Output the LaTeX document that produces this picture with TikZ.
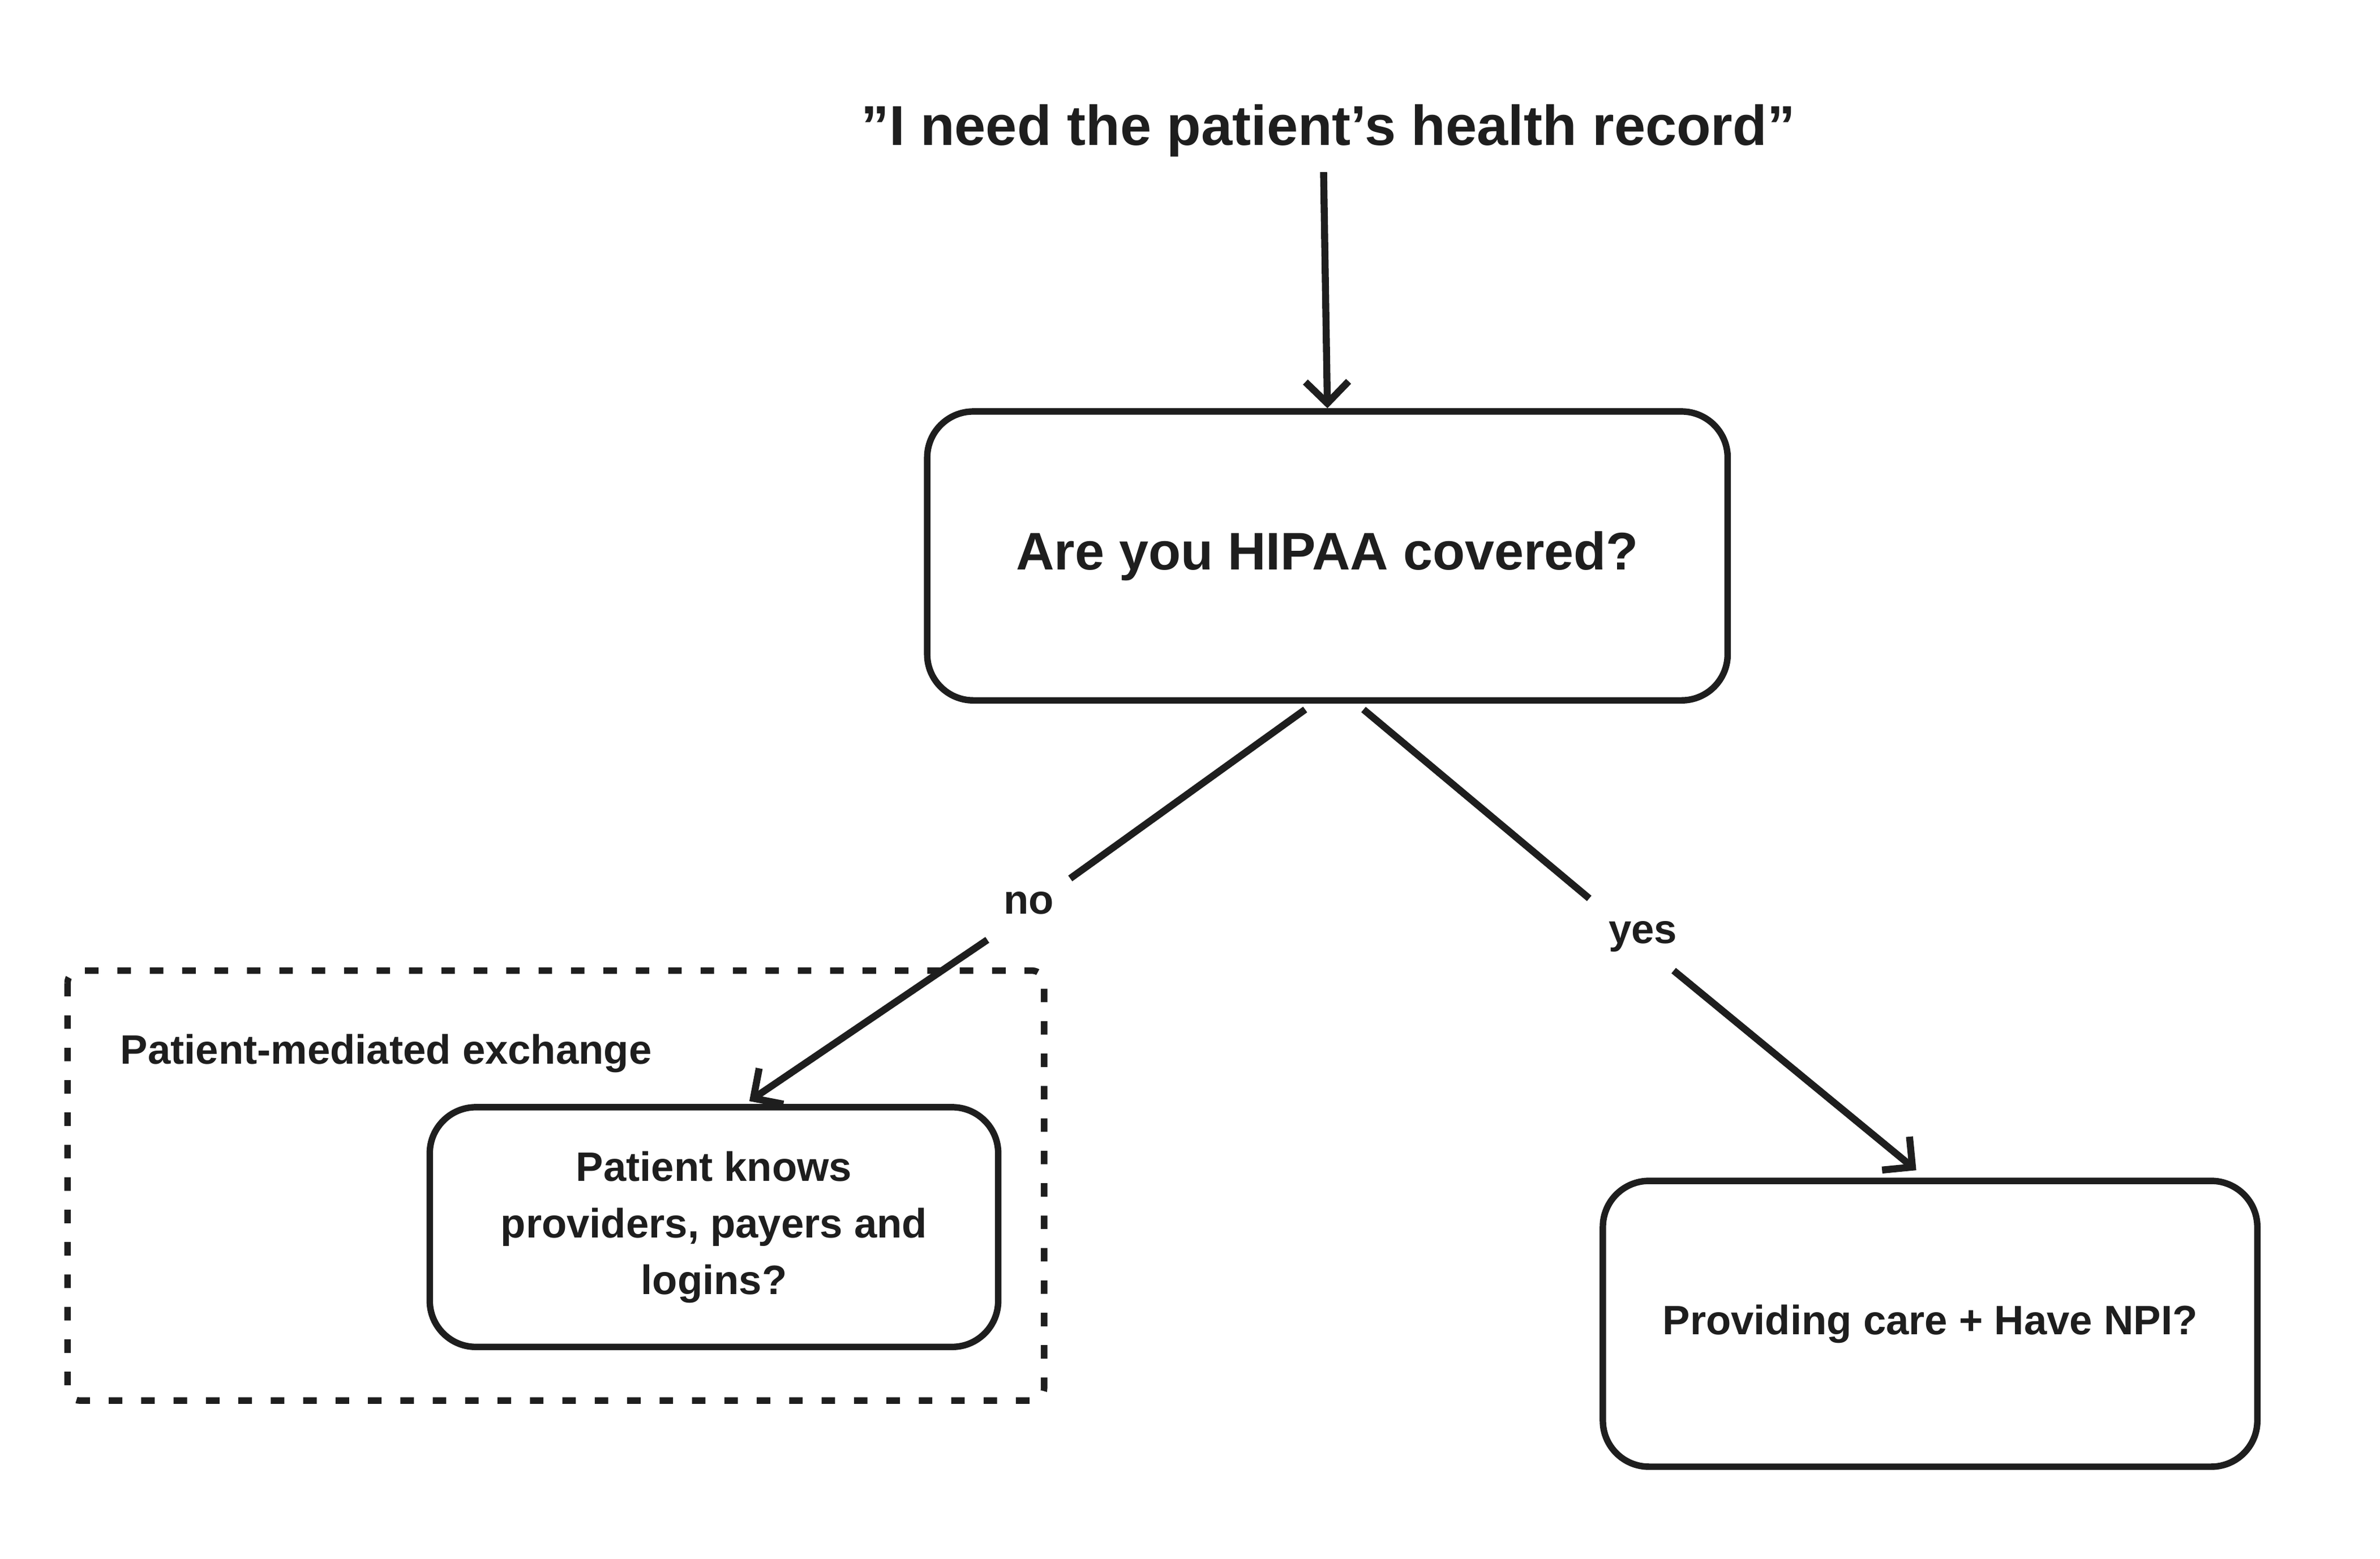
\documentclass[tikz,border=0pt]{standalone}
\usepackage{fontspec}
\setmainfont{Liberation Sans}
\usetikzlibrary{arrows.meta}
\definecolor{ink}{HTML}{1E1E1E}
\begin{document}
\begin{tikzpicture}[x=0.01cm,y=-0.01cm,
  box/.style={draw=ink,line width=1.2pt,rounded corners=0.3cm,align=center,text=ink,font=\bfseries\fontsize{7.6}{10.5}\selectfont},
  conn/.style={draw=ink,line width=1.3pt},
  arr/.style={conn,-{Straight Barb[length=4pt,width=8pt]}},
  lbl/.style={text=ink,font=\bfseries\fontsize{7.6}{9}\selectfont}]
\useasboundingbox (0,0) rectangle (1550,1015);
\node[text=ink,font=\bfseries\fontsize{10.4}{12}\selectfont] (title) at (865,85) {"I need the patient's health record"};
\node[box,minimum width=5.21cm,minimum height=1.88cm,font=\bfseries\fontsize{9.8}{12}\selectfont] (hipaa) at (864.5,362) {Are you HIPAA covered?};
\draw[draw=ink,line width=1.2pt,dashed,dash pattern=on 2.5pt off 3.5pt,rounded corners=0.08cm] (44,632) rectangle (680,912);
\node[lbl,anchor=west] (pme) at (66,686) {Patient-mediated exchange};
\node[box,minimum width=3.7cm,minimum height=1.56cm] (patient) at (465,799) {Patient knows\\providers, payers and\\logins?};
\node[box,minimum width=4.26cm,minimum height=1.86cm] (npi) at (1257,862) {Providing care + Have NPI?};
\node[lbl] (no) at (670,588) {no};
\node[lbl] (yes) at (1070,610) {yes};
\coordinate (t0) at (862,112);
\coordinate (h0) at (850,462);
\coordinate (h1) at (888,462);
\draw[arr] (t0) -- (hipaa.north);
\draw[conn] (h0) -- (697,572);
\draw[arr] (643,612) -- (488,717);
\draw[conn] (h1) -- (1035,585);
\draw[arr] (1090,632) -- (1248,762);
\end{tikzpicture}
\end{document}
